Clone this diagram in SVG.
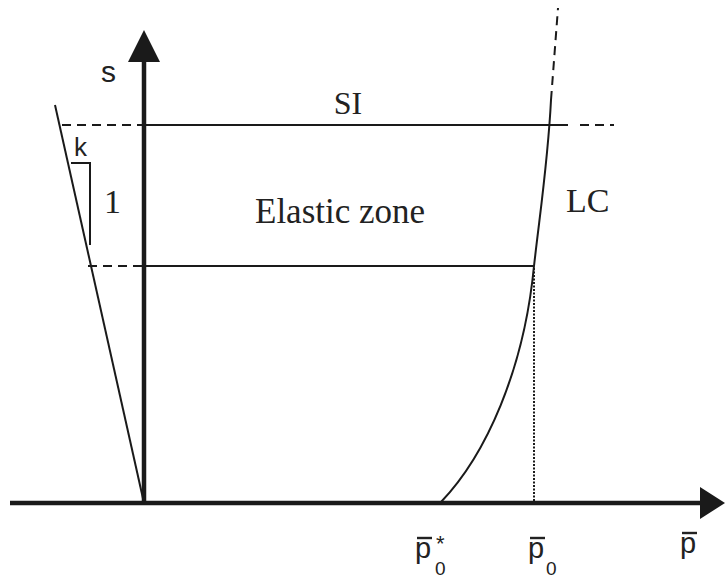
<svg xmlns="http://www.w3.org/2000/svg" width="725" height="579" viewBox="0 0 725 579">
<style>
.ln{stroke:#1a1a1a;fill:none;stroke-width:2}
.ds{stroke:#1a1a1a;fill:none;stroke-width:2;stroke-dasharray:9,6}
.ax{stroke:#1a1a1a;fill:none;stroke-width:4.5}
.bar{stroke:#222;stroke-width:2.4}
.serif{font-family:"Liberation Serif","Times New Roman",serif;fill:#222}
.sans{font-family:"Liberation Sans",Arial,sans-serif;fill:#222}
</style>
<rect width="725" height="579" fill="#fff"/>
<g id="connectors">
<line class="ax" x1="10" y1="503" x2="702" y2="503"/>
<polygon points="700,487 725,503 700,519" fill="#1a1a1a"/>
<line class="ax" x1="144" y1="503" x2="144" y2="60"/>
<polygon points="128,62 144,30 160,62" fill="#1a1a1a"/>
<line class="ln" x1="55" y1="105" x2="144" y2="503"/>
<line class="ds" x1="62" y1="125" x2="144" y2="125"/>
<line class="ln" x1="144" y1="125" x2="568" y2="125"/>
<line class="ds" x1="580" y1="125" x2="614" y2="125"/>
<line class="ds" x1="88" y1="266" x2="144" y2="266"/>
<line class="ln" x1="144" y1="266" x2="534" y2="266"/>
<polyline class="ln" points="71,163 90,163 90,245"/>
<path class="ln" d="M441,502 C486,455 524,370 534,266 C541,205 548,160 551,100"/>
<line class="ds" x1="551" y1="100" x2="558" y2="8"/>
<line x1="534" y1="268" x2="534" y2="502" stroke="#1a1a1a" stroke-width="2" stroke-dasharray="2,1.5"/>
</g>
<g id="labels">
<text class="sans" x="101" y="82" font-size="30">s</text>
<text class="sans" x="74" y="156" font-size="26">k</text>
<text class="serif" x="104" y="213" font-size="34">1</text>
<text class="serif" x="348" y="114" font-size="32" text-anchor="middle">SI</text>
<text class="serif" x="255" y="223" font-size="35">Elastic zone</text>
<text class="serif" x="566" y="212" font-size="34">LC</text>
</g>
<g id="p0star">
<text class="sans" x="415" y="558" font-size="29">p</text>
<line class="bar" x1="417" y1="538" x2="432" y2="538"/>
<text class="sans" x="435" y="575" font-size="19">0</text>
<text class="sans" x="436" y="551" font-size="22">*</text>
</g>
<g id="p0">
<text class="sans" x="528" y="558" font-size="29">p</text>
<line class="bar" x1="530" y1="538" x2="545" y2="538"/>
<text class="sans" x="546" y="575" font-size="19">0</text>
</g>
<g id="pbar">
<text class="sans" x="680" y="553" font-size="29">p</text>
<line class="bar" x1="682" y1="533" x2="697" y2="533"/>
</g>
</svg>
